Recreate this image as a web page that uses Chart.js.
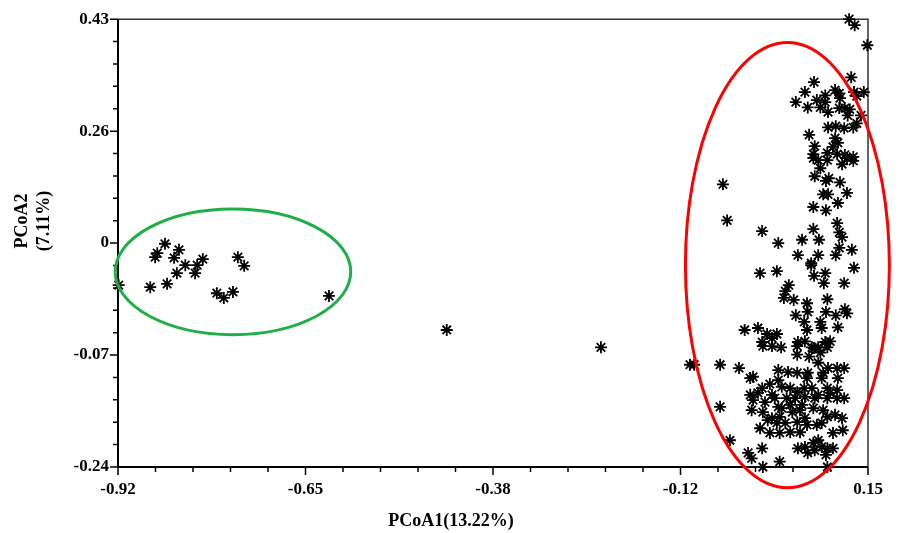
<!DOCTYPE html>
<html>
<head>
<meta charset="utf-8">
<script src="https://cdn.jsdelivr.net/npm/chart.js@4.4.1/dist/chart.umd.min.js"></script>
<style>
  html, body { margin: 0; padding: 0; background: #fff; }
  #wrap { width: 907px; height: 533px; }
</style>
</head>
<body>
<div id="wrap"><canvas id="pcoa"></canvas></div>
<script>
// PCoA scatter, two groups circled

var xTickLabels = ["-0.92", "-0.65", "-0.38", "-0.12", "0.15"];
var yTickLabels = ["-0.24", "-0.07", "0", "0.26", "0.43"];
var xMin = -0.92, xMax = 0.15;
var yMin = -0.24, yMax = 0.43;

// PCoA1 / PCoA2 coordinates of the samples
var pcoa1 = [
  -0.919, -0.874, -0.850, -0.867, -0.864, -0.853, -0.840, -0.833, -0.824, -0.836, -0.807, -0.810, -0.799, -0.749, -0.740, -0.779, -0.769, -0.756, -0.619,
  -0.451, -0.231, -0.104, -0.098,
  0.123, 0.131, 0.149, 0.126, 0.144, 0.073, 0.060, 0.047, 0.064, 0.077, 0.089, 0.089, 0.082, 0.093, 0.103, 0.109, 0.110, 0.130, 0.134, 0.109,
  0.117, 0.124, 0.121, 0.140, 0.134, 0.129, 0.093, 0.104, 0.116, 0.066, 0.103, 0.107, 0.074, 0.100, 0.072, 0.092, 0.106, 0.117, 0.129,
  0.072, 0.079, 0.092, 0.120, 0.129, 0.082, 0.113, 0.074, 0.090, 0.094, 0.110, 0.086, 0.093, 0.120, 0.107, 0.072, 0.090,
  -0.057, -0.051, -0.001, 0.022, 0.072, 0.056, 0.080, 0.106, 0.109, 0.113, 0.127, 0.109, 0.104, 0.050, 0.079, 0.069,
  -0.004, 0.020, 0.069, 0.073, 0.089, 0.087, 0.116, 0.130, 0.037, 0.032, 0.030, 0.044, 0.063, 0.092, 0.064, 0.047, 0.090, 0.104, 0.117, 0.120,
  0.059, 0.082, 0.084, 0.107, 0.063, -0.026, -0.007, 0.006, 0.020, 0.013, -0.001, 0.000, 0.013, 0.026, 0.050, 0.060, 0.049, 0.070, 0.079, 0.089, 0.096, 0.092,
  -0.061, -0.034, -0.014, -0.018, 0.022, 0.036, 0.049, 0.064, 0.063, 0.086, 0.084, 0.093, 0.106, 0.116, 0.107, 0.079, 0.049, 0.066, 0.082, 0.073,
  0.022, 0.010, -0.001, -0.007, -0.018, -0.014, 0.013, 0.027, 0.039, 0.049, 0.059, 0.070, 0.079, 0.092, 0.096, 0.106, 0.116, 0.106, 0.092, 0.074,
  0.060, 0.046, 0.034, 0.017, 0.003, -0.061, 0.022, 0.039, 0.056,
  -0.016, 0.000, 0.013, 0.024, 0.027, 0.042, 0.053, 0.072, 0.086, 0.092, 0.103, 0.113, 0.060, 0.049, 0.032, 0.020, 0.007, -0.004, 0.010, 0.024,
  0.039, 0.053, 0.063, 0.077, 0.084, 0.100, 0.114, -0.047, -0.001, 0.050, 0.060, 0.064, 0.072, 0.079, 0.084, 0.074, 0.092, 0.090, 0.100,
  -0.021, -0.016, 0.024, 0.000, 0.092
];
var pcoa2 = [
  0.032, 0.029, 0.034, 0.074, 0.080, 0.094, 0.073, 0.085, 0.062, 0.050, 0.062, 0.050, 0.071, 0.074, 0.061, 0.020, 0.013, 0.022, 0.016,
  -0.035, -0.061, -0.087, -0.087,
  0.430, 0.421, 0.391, 0.343, 0.321, 0.336, 0.321, 0.306, 0.298, 0.309, 0.316, 0.306, 0.298, 0.291, 0.324, 0.319, 0.312, 0.321, 0.315, 0.297,
  0.297, 0.295, 0.286, 0.286, 0.274, 0.268, 0.268, 0.270, 0.267, 0.257, 0.252, 0.245, 0.240, 0.239, 0.228, 0.230, 0.228, 0.227, 0.224,
  0.222, 0.219, 0.219, 0.222, 0.218, 0.207, 0.213, 0.195, 0.188, 0.192, 0.186, 0.168, 0.168, 0.170, 0.155, 0.149, 0.144,
  0.183, 0.129, 0.113, 0.095, 0.116, 0.100, 0.100, 0.125, 0.111, 0.104, 0.085, 0.088, 0.077, 0.077, 0.077, 0.065,
  0.050, 0.053, 0.062, 0.046, 0.050, 0.035, 0.035, 0.058, 0.032, 0.023, 0.013, 0.010, 0.005, 0.011, -0.008, -0.013, -0.008, -0.013, -0.004, -0.010,
  -0.023, -0.023, -0.032, -0.031, -0.035, -0.035, -0.032, -0.041, -0.041, -0.047, -0.053, -0.059, -0.059, -0.061, -0.053, -0.052, -0.059, -0.061, -0.061, -0.053, -0.052, -0.061,
  -0.087, -0.092, -0.105, -0.107, -0.095, -0.098, -0.099, -0.099, -0.107, -0.099, -0.107, -0.092, -0.092, -0.092, -0.107, -0.084, -0.072, -0.075, -0.069, -0.062,
  -0.110, -0.116, -0.122, -0.129, -0.132, -0.140, -0.132, -0.120, -0.122, -0.128, -0.122, -0.122, -0.132, -0.122, -0.129, -0.125, -0.137, -0.137, -0.137, -0.137,
  -0.135, -0.137, -0.137, -0.137, -0.143, -0.150, -0.150, -0.147, -0.147,
  -0.155, -0.158, -0.167, -0.165, -0.152, -0.158, -0.155, -0.152, -0.155, -0.165, -0.162, -0.167, -0.167, -0.173, -0.174, -0.174, -0.170, -0.182, -0.189, -0.189,
  -0.188, -0.188, -0.177, -0.177, -0.174, -0.189, -0.185, -0.200, -0.212, -0.212, -0.210, -0.219, -0.204, -0.200, -0.210, -0.215, -0.212, -0.222, -0.212,
  -0.219, -0.227, -0.232, -0.240, -0.240
];

// group outlines: centre and half-axes in data units
var groupNames = ["group A", "group B"];
var groupColors = ["#1fae48", "#ff0000"];
var groupCx = [-0.756, 0.035];
var groupCy = [0.052, 0.062];
var groupRx = [0.168, 0.1455];
var groupRy = [0.094, 0.333];

var points = pcoa1.map(function (v, i) { return { x: v, y: pcoa2[i] }; });

var serif = "'Liberation Serif', 'Times New Roman', serif";

function evenTicks(min, max) {
  var t = [];
  for (var i = 0; i <= 20; i++) t.push({ value: min + (max - min) * i / 20 });
  return t;
}

var axisPlugin = {
  id: "axisPlugin",
  beforeDatasetsDraw: function (chart) {
    var ctx = chart.ctx, a = chart.chartArea;
    var xs = chart.scales.x, ys = chart.scales.y;
    ctx.save();
    // frame top/right
    ctx.strokeStyle = "#333";
    ctx.lineWidth = 1.5;
    ctx.beginPath();
    ctx.moveTo(a.left, a.top);
    ctx.lineTo(a.right, a.top);
    ctx.lineTo(a.right, a.bottom);
    ctx.stroke();
    // axes
    ctx.strokeStyle = "#000";
    ctx.lineWidth = 2;
    ctx.beginPath();
    ctx.moveTo(a.left, a.top);
    ctx.lineTo(a.left, a.bottom);
    ctx.lineTo(a.right, a.bottom);
    ctx.stroke();
    ctx.lineWidth = 1.5;
    ctx.beginPath();
    for (var i = 0; i <= 20; i++) {
      var len = i % 5 === 0 ? 8 : 5;
      var px = xs.getPixelForValue(xMin + (xMax - xMin) * i / 20);
      ctx.moveTo(px, a.bottom);
      ctx.lineTo(px, a.bottom + len);
      var py = ys.getPixelForValue(yMin + (yMax - yMin) * i / 20);
      ctx.moveTo(a.left, py);
      ctx.lineTo(a.left - len, py);
    }
    ctx.stroke();
    ctx.restore();
  },
  afterDatasetsDraw: function (chart) {
    var ctx = chart.ctx;
    var xs = chart.scales.x, ys = chart.scales.y;
    ctx.save();
    for (var g = 0; g < groupCx.length; g++) {
      var cx = xs.getPixelForValue(groupCx[g]);
      var cy = ys.getPixelForValue(groupCy[g]);
      var rx = Math.abs(xs.getPixelForValue(groupCx[g] + groupRx[g]) - cx);
      var ry = Math.abs(ys.getPixelForValue(groupCy[g] + groupRy[g]) - cy);
      ctx.strokeStyle = groupColors[g];
      ctx.lineWidth = 3;
      ctx.beginPath();
      ctx.ellipse(cx, cy, rx, ry, 0, 0, Math.PI * 2);
      ctx.stroke();
    }
    // axis titles
    ctx.fillStyle = "#000";
    ctx.font = "bold 18px " + serif;
    ctx.textAlign = "center";
    ctx.textBaseline = "middle";
    ctx.fillText("PCoA1(13.22%)", 451, 521);
    ctx.translate(33, 221);
    ctx.rotate(-Math.PI / 2);
    ctx.fillText("PCoA2", 0, -11);
    ctx.fillText("(7.11%)", 0, 11);
    ctx.restore();
  }
};

var chart = new Chart(document.getElementById("pcoa"), {
  type: "scatter",
  data: {
    datasets: [
      {
        label: "samples",
        data: points,
        pointStyle: "star",
        pointRadius: 6,
        pointHoverRadius: 6,
        borderColor: "#000",
        backgroundColor: "#000",
        borderWidth: 1.8,
        clip: false,
      },
    ],
  },
  options: {
    responsive: true,
    maintainAspectRatio: false,
    animation: false,
    events: [],
    layout: { padding: { top: 19, right: 39, left: 0, bottom: 0 } },
    plugins: {
      legend: { display: false },
      tooltip: { enabled: false },
    },
    scales: {
      x: {
        type: "linear",
        min: xMin,
        max: xMax,
        afterBuildTicks: function (s) { s.ticks = evenTicks(xMin, xMax); },
        afterFit: function (s) { s.height = 66; },
        grid: { display: false, drawTicks: false },
        border: { display: false },
        ticks: {
          autoSkip: false,
          maxRotation: 0,
          padding: 12,
          color: "#000",
          font: { family: serif, size: 17, weight: "bold" },
          callback: function (v, i) { return i % 5 === 0 ? xTickLabels[i / 5] : ""; },
        },
      },
      y: {
        type: "linear",
        min: yMin,
        max: yMax,
        afterBuildTicks: function (s) { s.ticks = evenTicks(yMin, yMax); },
        afterFit: function (s) { s.width = 118; },
        grid: { display: false, drawTicks: false },
        border: { display: false },
        ticks: {
          autoSkip: false,
          padding: 9,
          color: "#000",
          font: { family: serif, size: 17, weight: "bold" },
          callback: function (v, i) { return i % 5 === 0 ? yTickLabels[i / 5] : ""; },
        },
      },
    },
  },
  plugins: [axisPlugin],
});
</script>
</body>
</html>
